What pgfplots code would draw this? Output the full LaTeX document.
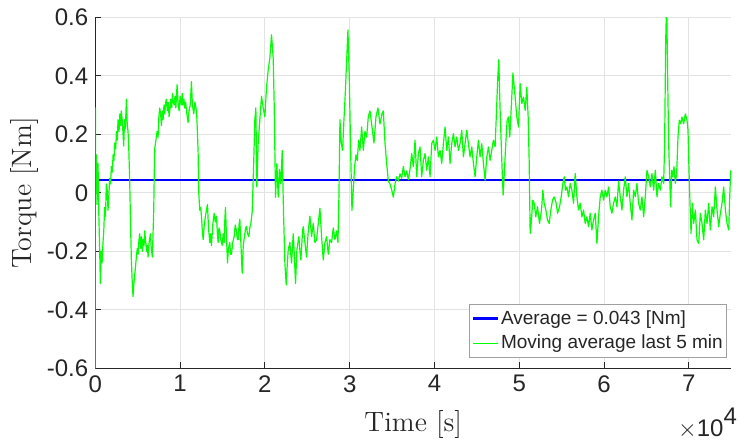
\documentclass[border=0pt]{standalone}
\usepackage{fontspec}
\newfontfamily\arial{Liberation Sans}
\usepackage{pgfplots}
\usepackage{pgfplotstable}
\pgfplotsset{compat=1.18}
\definecolor{axgray}{HTML}{262626}
\definecolor{gridgray}{HTML}{E3E3E3}
\definecolor{leggray}{HTML}{A0A0A0}
\definecolor{mblue}{HTML}{0000FF}
\definecolor{mgreen}{HTML}{00FF00}

% moving average of the torque
\pgfplotstableread{
t v
0 -0.60
15 0.29
60 0.02
120 0.13
200 -0.04
320 0.10
420 -0.08
520 -0.20
594 -0.31
700 -0.20
800 -0.24
909 -0.17
1000 -0.13
1100 -0.05
1200 -0.08
1302 0.03
1400 0.01
1499 -0.06
1600 -0.01
1700 0.05
1800 0.03
1893 0.09
2000 0.07
2100 0.13
2200 0.11
2286 0.17
2400 0.15
2500 0.21
2600 0.18
2680 0.25
2800 0.21
2900 0.27
3000 0.23
3073 0.28
3200 0.24
3349 0.16
3450 0.25
3550 0.22
3664 0.32
3760 0.24
3860 0.21
3950 0.15
4057 0.04
4150 -0.10
4254 -0.23
4350 -0.30
4451 -0.355
4550 -0.31
4647 -0.28
4750 -0.25
4844 -0.22
4950 -0.19
5050 -0.21
5150 -0.16
5238 -0.14
5350 -0.19
5450 -0.15
5552 -0.20
5650 -0.16
5750 -0.18
5828 -0.13
5950 -0.17
6050 -0.20
6150 -0.18
6221 -0.22
6350 -0.17
6497 -0.14
6600 -0.19
6733 -0.22
6800 -0.15
6890 -0.06
6950 0.06
7008 0.15
7150 0.18
7284 0.21
7400 0.19
7500 0.26
7598 0.29
7700 0.27
7800 0.23
7900 0.28
7992 0.25
8100 0.30
8200 0.27
8300 0.31
8385 0.32
8500 0.28
8600 0.31
8700 0.26
8779 0.28
8900 0.32
9000 0.29
9100 0.34
9173 0.31
9300 0.30
9400 0.33
9500 0.29
9645 0.37
9750 0.31
9881 0.28
10000 0.33
10156 0.30
10250 0.34
10350 0.30
10450 0.32
10550 0.29
10650 0.31
10800 0.27
10943 0.24
11050 0.28
11200 0.30
11337 0.38
11450 0.30
11612 0.27
11750 0.31
11927 0.28
12000 0.24
12124 0.14
12200 0.00
12321 -0.06
12420 -0.05
12519 -0.08
12600 -0.12
12715 -0.16
12850 -0.11
12991 -0.08
13100 -0.06
13227 -0.04
13350 -0.12
13502 -0.17
13600 -0.14
13699 -0.18
13850 -0.11
14014 -0.07
14150 -0.10
14289 -0.08
14400 -0.14
14486 -0.17
14580 -0.12
14683 -0.13
14800 -0.16
14958 -0.18
15080 -0.14
15194 -0.17
15280 -0.09
15352 -0.05
15470 -0.15
15588 -0.24
15700 -0.19
15863 -0.17
15950 -0.21
16060 -0.21
16200 -0.17
16375 -0.15
16500 -0.11
16650 -0.13
16750 -0.16
16847 -0.16
16950 -0.11
17044 -0.09
17180 -0.18
17319 -0.275
17450 -0.18
17634 -0.14
17731 -0.12
17831 -0.115
17950 -0.14
18106 -0.15
18220 -0.12
18342 -0.105
18500 -0.065
18657 0.08
18815 0.25
18933 0.29
19051 0.02
19208 0.17
19405 0.25
19602 0.33
19700 0.31
19798 0.29
19995 0.26
20192 0.36
20389 0.42
20585 0.46
20782 0.54
20979 0.46
21097 0.30
21254 -0.015
21412 0.10
21569 -0.015
21726 0.08
21884 0.03
22041 0.145
22198 -0.07
22356 -0.24
22513 -0.315
22630 -0.25
22750 -0.195
22946 -0.17
23050 -0.21
23143 -0.24
23340 -0.14
23480 -0.22
23615 -0.31
23773 -0.195
23900 -0.17
24009 -0.15
24130 -0.20
24245 -0.23
24442 -0.13
24521 -0.116
24718 -0.17
24915 -0.22
25111 -0.13
25308 -0.08
25505 -0.15
25702 -0.105
25898 -0.17
26095 -0.16
26292 -0.105
26489 -0.053
26685 -0.15
26882 -0.23
27079 -0.17
27276 -0.15
27472 -0.21
27669 -0.16
27866 -0.17
28063 -0.12
28259 -0.16
28456 -0.13
28614 -0.17
28732 -0.01
28850 0.25
29007 0.17
29164 0.145
29322 0.25
29479 0.34
29637 0.45
29794 0.557
29951 0.395
30109 0.145
30266 -0.06
30424 0.01
30581 0.09
30738 0.13
30896 0.11
31053 0.18
31211 0.145
31407 0.225
31604 0.145
31801 0.21
31998 0.19
32194 0.26
32391 0.28
32588 0.235
32863 0.17
33099 0.26
33335 0.29
33572 0.235
33808 0.27
33965 0.28
34162 0.17
34359 0.10
34555 0.04
34752 0.03
34949 0.01
35146 -0.015
35342 0.03
35539 0.055
35736 0.04
35933 0.065
36129 0.05
36326 0.09
36523 0.055
36720 0.075
36916 0.045
37113 0.08
37311 0.134
37507 0.089
37704 0.18
37901 0.055
38098 0.134
38294 0.157
38491 0.055
38688 0.111
38885 0.134
39081 0.077
39278 0.123
39475 0.055
39672 0.168
39868 0.18
40065 0.145
40262 0.191
40459 0.123
40655 0.145
40852 0.10
41049 0.168
41246 0.225
41442 0.145
41639 0.191
41836 0.10
42033 0.168
42229 0.202
42426 0.157
42623 0.191
42820 0.145
43016 0.168
43213 0.214
43410 0.123
43607 0.168
43803 0.214
44000 0.168
44197 0.123
44394 0.157
44590 0.10
44787 0.055
44984 0.123
45181 0.18
45377 0.123
45574 0.168
45771 0.10
45968 0.043
46164 0.123
46361 0.157
46558 0.111
46755 0.145
46951 0.18
47148 0.157
47345 0.305
47463 0.395
47581 0.455
47738 0.282
47935 0.111
48092 -0.008
48250 0.077
48407 0.168
48565 0.248
48722 0.259
48879 0.191
49037 0.282
49250 0.41
49511 0.327
49708 0.259
49904 0.225
50101 0.373
50298 0.305
50495 0.327
50691 0.282
50888 0.361
51045 0.259
51163 0.111
51282 -0.139
51400 -0.105
51596 -0.025
51754 -0.036
51951 -0.082
52147 -0.048
52383 -0.105
52619 -0.059
52777 0.009
52934 -0.036
53131 -0.059
53328 -0.093
53524 -0.105
53721 -0.059
53918 -0.025
54115 -0.014
54351 -0.036
54508 -0.07
54744 -0.048
54941 -0.014
55138 0.032
55295 0.055
55453 0.009
55610 0.02
55807 -0.014
56004 0.032
56200 0.009
56397 -0.036
56594 0.066
56791 -0.014
56987 -0.059
57184 -0.036
57381 -0.082
57578 -0.059
57774 -0.105
57971 -0.082
58168 -0.116
58365 -0.07
58561 -0.127
58758 -0.093
58955 -0.07
59152 -0.173
59348 -0.082
59545 -0.014
59742 0.009
59939 -0.025
60135 0.009
60332 -0.014
60529 0.02
60726 -0.048
60922 -0.07
61119 -0.036
61316 -0.014
61513 -0.048
61709 0.04
61907 -0.014
62104 -0.059
62300 0.009
62497 0.055
62694 -0.014
62891 0.032
63087 -0.036
63284 -0.093
63481 0.009
63678 -0.014
63874 0.032
64071 -0.036
64268 -0.059
64465 -0.014
64661 -0.082
64858 -0.014
65055 0.077
65252 0.055
65448 0.02
65645 0.066
65842 0.009
66039 0.077
66235 -0.014
66432 0.032
66629 0.009
66826 0.055
67022 0.032
67140 0.168
67258 0.509
67376 0.66
67494 0.395
67613 0.168
67731 0.055
67849 -0.048
67967 0.077
68085 0.055
68242 0.089
68400 0.032
68557 0.066
68714 0.191
68872 0.248
69029 0.236
69187 0.259
69383 0.236
69580 0.27
69777 0.248
69895 0.214
70013 0.077
70131 -0.036
70249 -0.139
70407 -0.036
70564 -0.105
70761 -0.059
70957 -0.161
71154 -0.173
71351 -0.07
71548 -0.105
71744 -0.161
71941 -0.059
72138 -0.105
72335 -0.036
72531 -0.127
72728 -0.048
72925 -0.082
73122 0.02
73318 -0.059
73515 -0.116
73712 -0.07
73909 -0.036
74105 0.02
74302 -0.059
74499 -0.105
74696 -0.127
74814 -0.014
74932 0.077
}\torque

\begin{document}
\begin{tikzpicture}
\begin{axis}[
    name=ax,
    at={(47.65pt,38.35pt)}, anchor=south west,
    scale only axis, width=318pt, height=175.5pt,
    xmin=0, xmax=75000, ymin=-0.6, ymax=0.6,
    scaled x ticks=false, scaled y ticks=false,
    axis lines=left,
    axis line style={-, draw=axgray, line width=0.5pt},
    xtick={0,10000,20000,30000,40000,50000,60000,70000},
    xticklabels={0,1,2,3,4,5,6,7},
    ytick={-0.6,-0.4,-0.2,0,0.2,0.4,0.6},
    yticklabels={-0.6,-0.4,-0.2,0,0.2,0.4,0.6},
    tick align=inside, major tick length=3pt,
    tick style={draw=axgray, line width=0.5pt},
    grid=major, grid style={draw=gridgray, line width=0.5pt},
    ticklabel style={font=\arial\fontsize{12}{14}\selectfont, text=axgray},
    xlabel={Time [s]}, ylabel={Torque [Nm]},
    label style={font=\fontsize{14}{16}\selectfont, text=axgray},
    xlabel style={at={(axis description cs:0.5,-0.1812)}, anchor=base},
    ylabel style={at={(axis description cs:-0.112,0.5)}, anchor=center},
    legend style={at={(axis description cs:1,0)}, anchor=south east,
        xshift=-2pt, yshift=5pt, draw=leggray, line width=0.5pt, fill=white,
        font=\arial\fontsize{9.5}{11}\selectfont, text=axgray,
        inner xsep=1pt, inner ysep=1pt, row sep=0pt,
        nodes={inner xsep=1pt, inner ysep=2pt}},
    legend cell align=left,
    legend image code/.code={\draw[#1] (0pt,0pt) -- (12.5pt,0pt);},
]
\addplot[draw=mblue, line width=1.2pt] coordinates {(0,0.043) (74800,0.043)};
\addlegendentry{Average = 0.043 [Nm]}
\addplot[draw=mgreen, line width=0.6pt, line join=round] table[x=t, y=v] {\torque};
\addlegendentry{Moving average last 5 min}
\end{axis}
\node[anchor=base east, font=\arial\fontsize{12}{14}\selectfont, text=axgray,
      inner sep=0pt, xshift=3pt, yshift=-34.35pt] at (ax.south east)
      {$\times$10\raisebox{0.5em}{4}};
\pgfresetboundingbox
\useasboundingbox (0,0) rectangle (370pt,222.5pt);
\end{tikzpicture}
\end{document}
